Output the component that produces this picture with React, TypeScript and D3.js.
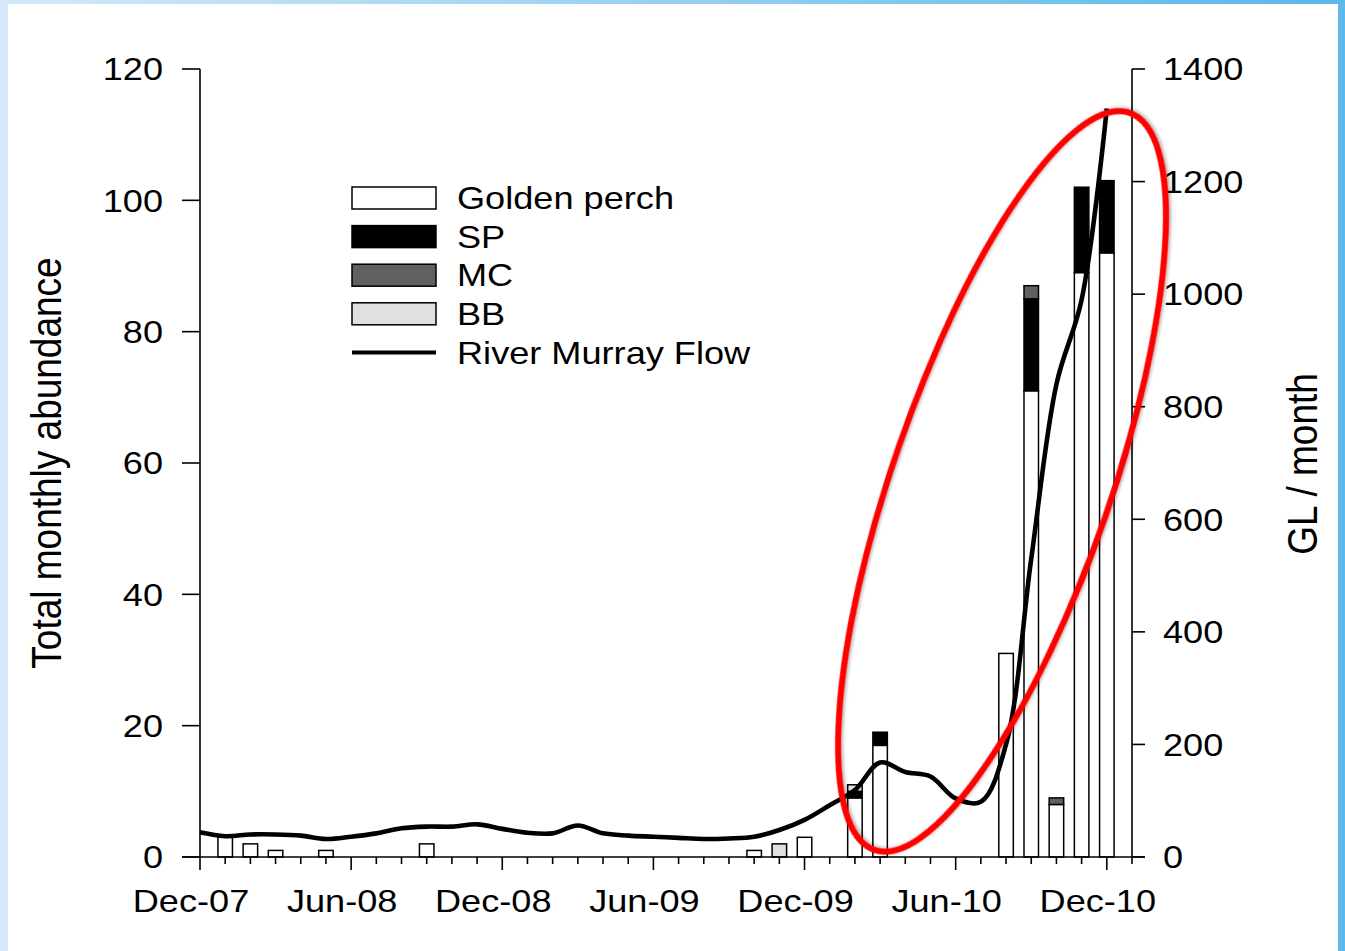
import { useEffect, useRef } from 'react';
import * as d3 from 'd3';

// one entry per month, Dec-07 .. Dec-10
const months = [
  'Dec-07', 'Jan-08', 'Feb-08', 'Mar-08', 'Apr-08', 'May-08', 'Jun-08', 'Jul-08', 'Aug-08', 'Sep-08', 'Oct-08', 'Nov-08',
  'Dec-08', 'Jan-09', 'Feb-09', 'Mar-09', 'Apr-09', 'May-09', 'Jun-09', 'Jul-09', 'Aug-09', 'Sep-09', 'Oct-09', 'Nov-09',
  'Dec-09', 'Jan-10', 'Feb-10', 'Mar-10', 'Apr-10', 'May-10', 'Jun-10', 'Jul-10', 'Aug-10', 'Sep-10', 'Oct-10', 'Nov-10',
  'Dec-10',
];
const monthTickLabels = ['Dec-07', 'Jun-08', 'Dec-08', 'Jun-09', 'Dec-09', 'Jun-10', 'Dec-10'];

const goldenPerch = [0, 3, 2, 1, 0, 1, 0, 0, 0, 2, 0, 0, 0, 0, 0, 0, 0, 0, 0, 0, 0, 0, 1, 0, 3, 0, 9, 17, 0, 0, 0, 0, 31, 71, 8, 89, 92];
const sp =          [0, 0, 0, 0, 0, 0, 0, 0, 0, 0, 0, 0, 0, 0, 0, 0, 0, 0, 0, 0, 0, 0, 0, 0, 0, 0, 1, 2, 0, 0, 0, 0, 0, 14, 0, 13, 11];
const mc =          [0, 0, 0, 0, 0, 0, 0, 0, 0, 0, 0, 0, 0, 0, 0, 0, 0, 0, 0, 0, 0, 0, 0, 0, 0, 0, 0, 0, 0, 0, 0, 0, 0, 2, 1, 0, 0];
const bb =          [0, 0, 0, 0, 0, 0, 0, 0, 0, 0, 0, 0, 0, 0, 0, 0, 0, 0, 0, 0, 0, 0, 0, 2, 0, 0, 1, 0, 0, 0, 0, 0, 0, 0, 0, 0, 0];

// River Murray flow, GL / month
const flow = [
  44, 37, 40, 40, 38, 32, 36, 42, 51, 54, 54, 58,
  50, 43, 42, 56, 42, 38, 36, 34, 32, 33, 36, 48,
  66, 92, 119, 168, 151, 143, 104, 98, 200, 530, 840, 990,
  1330,
];

const leftTicks = [0, 20, 40, 60, 80, 100, 120];
const rightTicks = [0, 200, 400, 600, 800, 1000, 1200, 1400];

const seriesKeys = ['gp', 'sp', 'mc', 'bb'];
const seriesNames = ['Golden perch', 'SP', 'MC', 'BB'];
const seriesColors = ['#ffffff', '#000000', '#606060', '#e0e0e0'];

export default function App() {
  const svgRef = useRef<SVGSVGElement>(null);

  useEffect(() => {
    document.body.style.margin = '0';
    const svg = d3.select(svgRef.current);
    svg.selectAll('*').remove();

    const W = 1345, H = 951;
    const font = '"Liberation Sans", Arial, sans-serif';
    const stretch = 1.13; // text in the original is slightly wide

    const x = d3.scaleLinear().domain([0, 37]).range([200, 1132]);
    const yLeft = d3.scaleLinear().domain([0, 120]).range([857, 69]);
    const yRight = d3.scaleLinear().domain([0, 1400]).range([857, 69]);

    const label = (g: any, str: string, tx: number, ty: number, anchor: string, size: number, rotate = false) =>
      g.append('text')
        .attr('transform', `translate(${tx},${ty}) scale(${stretch},1)${rotate ? ' rotate(-90)' : ''}`)
        .attr('text-anchor', anchor)
        .attr('dominant-baseline', 'central')
        .attr('font-family', font)
        .attr('font-size', size)
        .attr('fill', '#000')
        .text(str);

    // slide frame
    const defs = svg.append('defs');
    const grad = defs.append('linearGradient').attr('id', 'topband').attr('x1', '0').attr('x2', '1');
    grad.append('stop').attr('offset', '0').attr('stop-color', '#d4e8f9');
    grad.append('stop').attr('offset', '1').attr('stop-color', '#58b8e8');
    const shadow = defs.append('filter').attr('id', 'shadow').attr('x', '-20%').attr('y', '-20%').attr('width', '140%').attr('height', '140%');
    shadow.append('feDropShadow').attr('dx', 1.5).attr('dy', 1.5).attr('stdDeviation', 1.5)
      .attr('flood-color', '#000').attr('flood-opacity', 0.3);

    svg.append('rect').attr('width', W).attr('height', H).attr('fill', '#fff');
    svg.append('rect').attr('x', 0).attr('y', 0).attr('width', 8).attr('height', H).attr('fill', '#d4e8f9');
    svg.append('rect').attr('x', 0).attr('y', 0).attr('width', W).attr('height', 4).attr('fill', 'url(#topband)');
    svg.append('rect').attr('x', 1338).attr('y', 0).attr('width', 7).attr('height', H).attr('fill', '#5cb9e9');

    // stacked bars
    const rows = months.map((m, i) => ({ i, m, gp: goldenPerch[i], sp: sp[i], mc: mc[i], bb: bb[i] }));
    const stacked = d3.stack<any>().keys(seriesKeys)(rows);
    const barW = 14.5;
    const bars = svg.append('g');
    stacked.forEach((layer, k) => {
      bars.selectAll(null)
        .data(layer.filter(d => d[1] - d[0] > 0))
        .enter()
        .append('rect')
        .attr('x', d => x(d.data.i) - barW / 2)
        .attr('y', d => yLeft(d[1]))
        .attr('width', barW)
        .attr('height', d => yLeft(d[0]) - yLeft(d[1]))
        .attr('fill', seriesColors[k])
        .attr('stroke', '#000')
        .attr('stroke-width', 1.5);
    });

    // flow line
    const line = d3.line<number>()
      .x((d, i) => x(i))
      .y(d => yRight(d))
      .curve(d3.curveCatmullRom.alpha(0.5));
    svg.append('path')
      .attr('d', line(flow))
      .attr('fill', 'none')
      .attr('stroke', '#000')
      .attr('stroke-width', 4.6);

    // axes
    const axes = svg.append('g').attr('stroke', '#000').attr('stroke-width', 1.6);
    axes.append('line').attr('x1', x(0)).attr('x2', x(0)).attr('y1', yLeft(120)).attr('y2', yLeft(0));
    axes.append('line').attr('x1', x(37)).attr('x2', x(37)).attr('y1', yRight(1400)).attr('y2', yRight(0));
    axes.append('line').attr('x1', x(0) - 18).attr('x2', x(37) + 13).attr('y1', yLeft(0)).attr('y2', yLeft(0));

    leftTicks.forEach(v => {
      axes.append('line').attr('x1', x(0) - 18).attr('x2', x(0)).attr('y1', yLeft(v)).attr('y2', yLeft(v));
      label(svg, String(v), 163, yLeft(v), 'end', 32);
    });
    rightTicks.forEach(v => {
      axes.append('line').attr('x1', x(37)).attr('x2', x(37) + 13).attr('y1', yRight(v)).attr('y2', yRight(v));
      label(svg, String(v), 1163, yRight(v), 'start', 32);
    });
    d3.range(0, 38).forEach(i => {
      const major = i % 6 === 0 && i <= 36;
      axes.append('line').attr('x1', x(i)).attr('x2', x(i)).attr('y1', yLeft(0)).attr('y2', yLeft(0) + (major ? 13 : 7));
    });
    monthTickLabels.forEach(t => {
      const i = months.indexOf(t);
      label(svg, t, x(i) - 9, 901, 'middle', 32);
    });

    label(svg, 'Total monthly abundance', 46, 463, 'middle', 37, true);
    label(svg, 'GL / month', 1302, 464, 'middle', 37, true);

    // legend
    const legend = svg.append('g');
    const legendX = 352, legendY = 198, legendStep = 38.6;
    seriesNames.forEach((name, k) => {
      const cy = legendY + k * legendStep;
      legend.append('rect')
        .attr('x', legendX).attr('y', cy - 11).attr('width', 84).attr('height', 22)
        .attr('fill', seriesColors[k]).attr('stroke', '#000').attr('stroke-width', 1.5);
      label(legend, name, 457, cy, 'start', 32);
    });
    const lineY = legendY + 4 * legendStep;
    legend.append('line').attr('x1', legendX).attr('x2', legendX + 84).attr('y1', lineY).attr('y2', lineY)
      .attr('stroke', '#000').attr('stroke-width', 4);
    label(legend, 'River Murray Flow', 457, lineY, 'start', 32);

    // red highlight ellipse (month index, abundance value)
    const hl = { month: 31.84, value: 57.2, rx: 390, ry: 109, angle: -70.9 };
    const cx = x(hl.month), cy = yLeft(hl.value);
    svg.append('ellipse')
      .attr('cx', cx).attr('cy', cy).attr('rx', hl.rx).attr('ry', hl.ry)
      .attr('transform', `rotate(${hl.angle},${cx},${cy})`)
      .attr('fill', 'none')
      .attr('stroke', '#ff0000')
      .attr('stroke-width', 6)
      .attr('filter', 'url(#shadow)');
  }, []);

  return (
    <div style={{ width: 1345, height: 951 }}>
      <svg ref={svgRef} width={1345} height={951} style={{ display: 'block' }} />
    </div>
  );
}
